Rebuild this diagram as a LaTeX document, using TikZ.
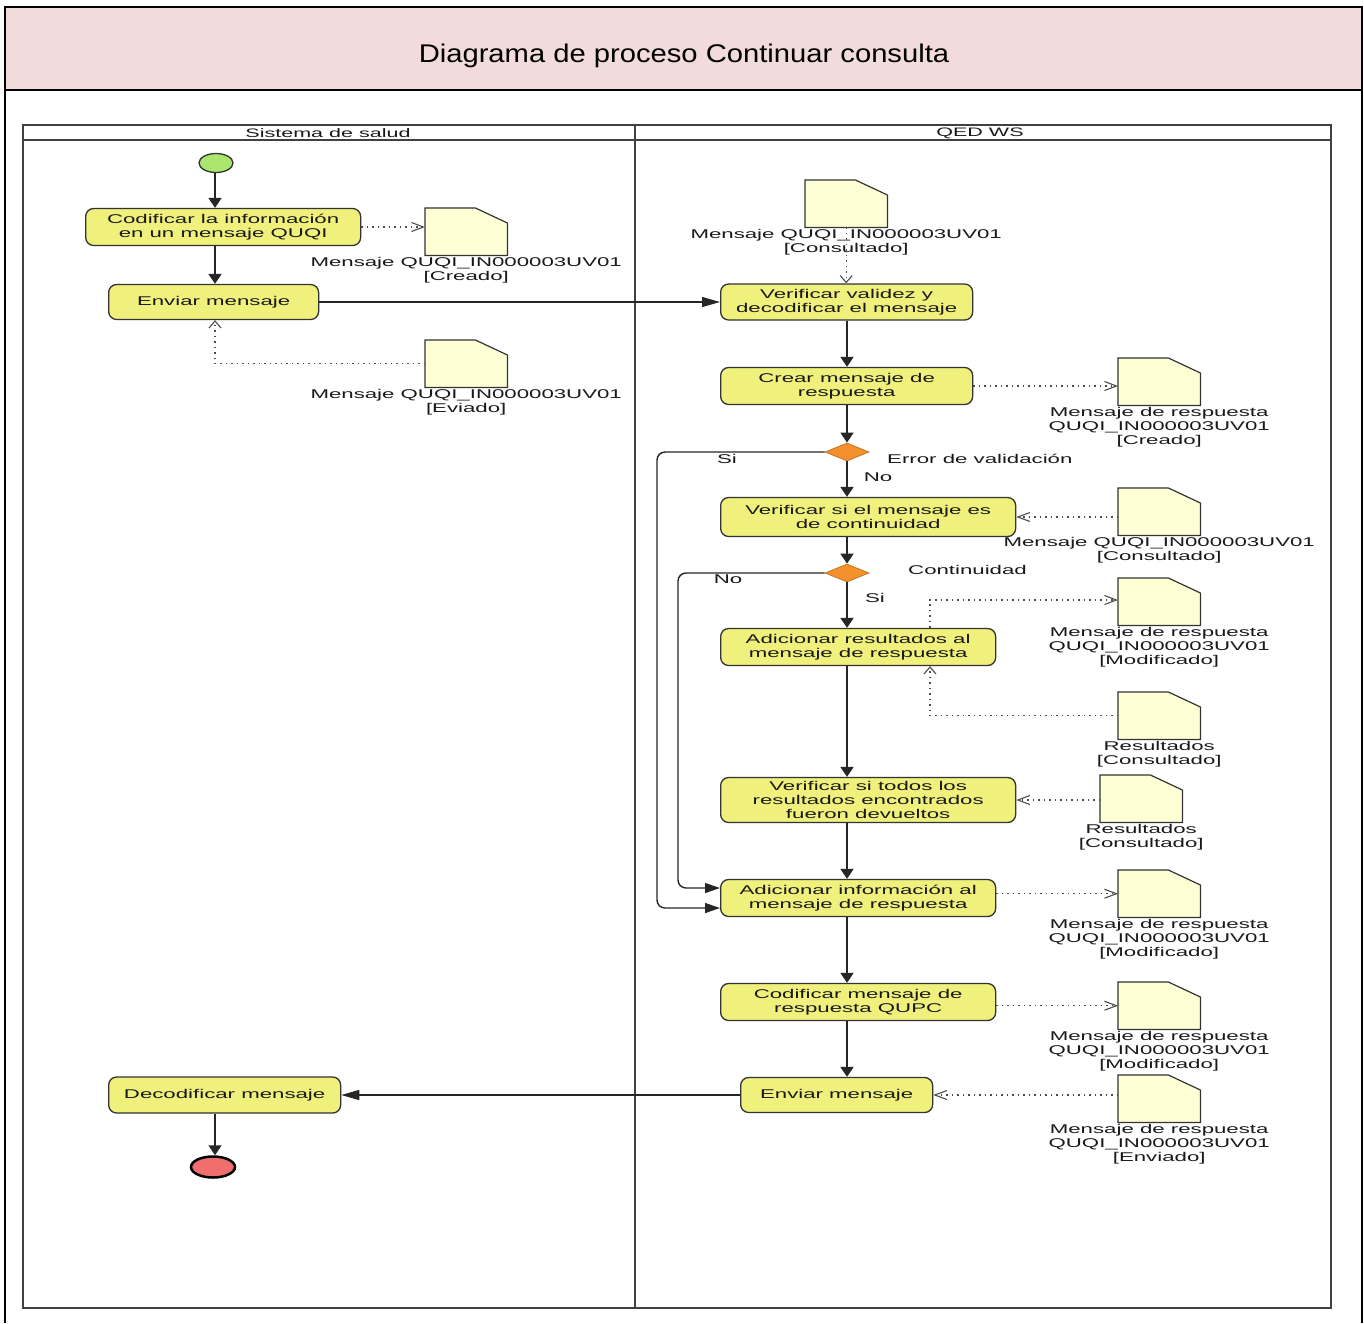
\documentclass[tikz,border=0pt]{standalone}
\usepackage{fontspec}
\usetikzlibrary{arrows.meta,shapes.geometric,calc}
\newfontfamily\dfont[FakeStretch=1.75]{Liberation Sans}
\newfontfamily\titlefont[FakeStretch=1.14]{Liberation Sans}
\definecolor{hdrfill}{RGB}{242,220,219}
\definecolor{actfill}{RGB}{240,240,125}
\definecolor{docfill}{RGB}{255,255,214}
\definecolor{decfill}{RGB}{245,145,45}
\definecolor{startfill}{RGB}{170,230,110}
\definecolor{endfill}{RGB}{240,110,110}

% object node: document with a cut corner and its caption below
\newcommand{\objnode}[4]{%
  \node[docbox, anchor=north west] (#1) at (#2,#3) {};
  \draw[docline] (#1.north west) -- ($(#1.north east)+(-32,0)$) -- ($(#1.north east)+(0,15)$)
     -- (#1.south east) -- (#1.south west) -- cycle;
  \node[doclabel, anchor=north] (#1l) at ($(#1.south)+(0,2)$) {#4};
}

\begin{document}
\begin{tikzpicture}[x=1pt,y=-1pt,
  act/.style={draw=black!80, line width=1.3pt, fill=actfill, rounded corners=8pt,
    align=center, inner sep=2pt, anchor=west, text=black!90,
    font=\dfont\fontsize{12.7}{14}\selectfont},
  docbox/.style={minimum width=82pt, minimum height=47pt, inner sep=0pt, draw=none},
  docline/.style={draw=black!80, line width=1.2pt, fill=docfill},
  doclabel/.style={align=center, inner sep=0pt, text=black!90,
    font=\dfont\fontsize{12.7}{14}\selectfont},
  txt/.style={inner sep=0pt, text=black!90, font=\dfont\fontsize{12.7}{14}\selectfont},
  lanetxt/.style={inner sep=0pt, text=black!90, font=\dfont\fontsize{12.3}{13}\selectfont},
  lane/.style={draw=black!75, line width=1.5pt},
  dec/.style={diamond, minimum width=44pt, minimum height=18pt, inner sep=0pt,
    fill=decfill, draw=decfill!80!black, line width=0.8pt},
  flow/.style={draw=black!85, line width=1.8pt, -{Triangle[length=10pt,width=13pt]}},
  hflow/.style={draw=black!85, line width=1.1pt, -{Triangle[length=18pt,width=10pt]}},
  loopflow/.style={draw=black!85, line width=1.4pt, rounded corners=8pt,
    -{Triangle[length=15pt,width=10pt]}},
  depH/.style={draw=black!70, line width=1.1pt, dash pattern=on 1.5pt off 4pt,
    -{Straight Barb[length=12pt,width=9pt]}},
  depV/.style={draw=black!70, line width=1.1pt, dash pattern=on 1.5pt off 4pt,
    -{Straight Barb[length=7pt,width=12pt]}},
]
\useasboundingbox (0,0) rectangle (1364,1323);

% page frame and title band
\fill[hdrfill] (5,7) rectangle (1362,90);
\draw[line width=2.5pt] (5,1323) -- (5,7) -- (1362,7) -- (1362,1323);
\draw[line width=2.5pt] (5,90) -- (1362,90);
\node[inner sep=0pt, font=\titlefont\fontsize{25.6}{30}\selectfont] (title) at (684,56)
  {Diagrama de proceso Continuar consulta};

% swimlanes
\draw[lane] (23,125) rectangle (1331,1308);
\draw[lane] (23,140) -- (1331,140);
\draw[lane] (635,125) -- (635,1308);
\node[lanetxt] (laneA) at (328,133) {Sistema de salud};
\node[lanetxt] (laneB) at (980,133) {QED WS};

% spines of the two lanes
\coordinate (lsp) at (215,0);
\coordinate (rsp) at (847,0);
\coordinate (tap) at (930,600);

% left lane
\node[ellipse, minimum width=34pt, minimum height=19pt, fill=startfill, draw=black!80,
  line width=1.3pt] (start) at (216,163) {};
\node[act, minimum width=275pt, minimum height=37pt] (b1) at (85,227)
  {Codificar la información\\en un mensaje QUQI};
\node[act, minimum width=210pt, minimum height=35pt] (b2) at (108,302) {Enviar mensaje};
\node[act, minimum width=232pt, minimum height=36pt] (b3) at (108,1095) {Decodificar mensaje};
\node[ellipse, minimum width=44pt, minimum height=21pt, fill=endfill, draw=black,
  line width=2.5pt] (stop) at (213,1167) {};

\objnode{d1}{425}{208}{Mensaje QUQI\_IN000003UV01\\{[Creado]}}
\objnode{d2}{425}{340}{Mensaje QUQI\_IN000003UV01\\{[Eviado]}}

% right lane
\node[act, minimum width=252pt, minimum height=36pt] (v1) at (720,302)
  {Verificar validez y\\decodificar el mensaje};
\node[act, minimum width=252pt, minimum height=37pt] (c1) at (720,386)
  {Crear mensaje de\\respuesta};
\node[dec] (k1) at (847,452) {};
\node[act, minimum width=295pt, minimum height=39pt] (vc) at (720,517)
  {Verificar si el mensaje es\\de continuidad};
\node[dec] (k2) at (847,573) {};
\node[act, minimum width=275pt, minimum height=37pt] (ar) at (720,647)
  {Adicionar resultados al\\mensaje de respuesta};
\node[act, minimum width=295pt, minimum height=45pt] (vt) at (720,800)
  {Verificar si todos los\\resultados encontrados\\fueron devueltos};
\node[act, minimum width=275pt, minimum height=37pt] (ai) at (720,898)
  {Adicionar información al\\mensaje de respuesta};
\node[act, minimum width=275pt, minimum height=37pt] (cq) at (720,1002)
  {Codificar mensaje de\\respuesta QUPC};
\node[act, minimum width=192pt, minimum height=35pt] (er) at (740,1095) {Enviar mensaje};

\objnode{d3}{805}{180}{Mensaje QUQI\_IN000003UV01\\{[Consultado]}}
\objnode{d4}{1118}{358}{Mensaje de respuesta\\QUQI\_IN000003UV01\\{[Creado]}}
\objnode{d5}{1118}{488}{Mensaje QUQI\_IN000003UV01\\{[Consultado]}}
\objnode{d6}{1118}{578}{Mensaje de respuesta\\QUQI\_IN000003UV01\\{[Modificado]}}
\objnode{d7}{1118}{692}{Resultados\\{[Consultado]}}
\objnode{d8}{1100}{775}{Resultados\\{[Consultado]}}
\objnode{d9}{1118}{870}{Mensaje de respuesta\\QUQI\_IN000003UV01\\{[Modificado]}}
\objnode{d10}{1118}{982}{Mensaje de respuesta\\QUQI\_IN000003UV01\\{[Modificado]}}
\objnode{d11}{1118}{1075}{Mensaje de respuesta\\QUQI\_IN000003UV01\\{[Enviado]}}

% guard labels
\node[txt, anchor=west] (g1) at (887,459) {Error de validación};
\node[txt] (g1a) at (727,459) {Si};
\node[txt] (g1b) at (878,477) {No};
\node[txt, anchor=west] (g2) at (908,570) {Continuidad};
\node[txt] (g2a) at (728,579) {No};
\node[txt] (g2b) at (875,598) {Si};

% control flow, left lane
\draw[flow] (lsp |- start.south) -- (lsp |- b1.north);
\draw[flow] (lsp |- b1.south) -- (lsp |- b2.north);
\draw[flow] (lsp |- b3.south) -- (lsp |- stop.north);
\draw[hflow] (b2.east) -- (v1.west);
\draw[hflow] (er.west) -- (b3.east);

% control flow, right lane
\draw[flow] (rsp |- v1.south) -- (rsp |- c1.north);
\draw[flow] (rsp |- c1.south) -- (k1.north);
\draw[flow] (k1.south) -- (rsp |- vc.north);
\draw[flow] (rsp |- vc.south) -- (k2.north);
\draw[flow] (k2.south) -- (rsp |- ar.north);
\draw[flow] (rsp |- ar.south) -- (rsp |- vt.north);
\draw[flow] (rsp |- vt.south) -- (rsp |- ai.north);
\draw[flow] (rsp |- ai.south) -- (rsp |- cq.north);
\draw[flow] (rsp |- cq.south) -- (rsp |- er.north);
\draw[loopflow] (k1.west) -- (657,452) -- (657,908) -- ($(ai.west)+(0,10)$);
\draw[loopflow] (k2.west) -- (678,573) -- (678,888) -- ($(ai.west)+(0,-10)$);

% object flows
\draw[depH] (b1.east) -- (b1.east -| d1.west);
\draw[depV] (d2.west) -- (lsp |- d2.west) -- (lsp |- b2.south);
\draw[depV] (d3.south) -- (d3.south |- v1.north);
\draw[depH] (c1.east) -- (c1.east -| d4.west);
\draw[depH] (d5.west |- vc.east) -- (vc.east);
\draw[depH] (tap |- ar.north) -- (tap) -- (tap -| d6.west);
\draw[depV] (d7.west) -- (tap |- d7.west) -- (tap |- ar.south);
\draw[depH] (d8.west |- vt.east) -- (vt.east);
\draw[depH] (ai.east |- d9.west) -- (d9.west);
\draw[depH] (cq.east |- d10.west) -- (d10.west);
\draw[depH] (d11.west |- er.east) -- (er.east);
\end{tikzpicture}
\end{document}
